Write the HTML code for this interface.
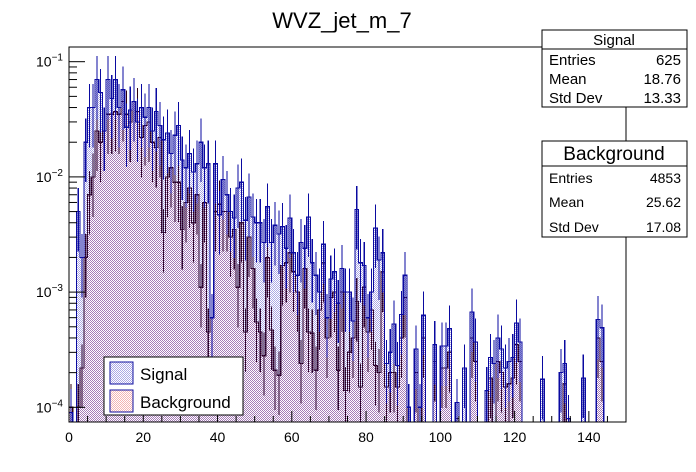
<!DOCTYPE html>
<html><head><meta charset="utf-8"><style>
body{margin:0;background:#fff;}
svg{display:block;font-family:"Liberation Sans",Arial,sans-serif;}
</style></head><body>
<svg id="chart" width="696" height="472" xmlns="http://www.w3.org/2000/svg">
<defs>
<pattern id="bgpat" patternUnits="userSpaceOnUse" width="2" height="2"><rect x="0" y="0" width="1" height="1" fill="#f4b4b4"/><rect x="1" y="1" width="1" height="1" fill="#f4b4b4"/></pattern>
<pattern id="sigpat" patternUnits="userSpaceOnUse" width="2" height="2"><rect x="0" y="0" width="1" height="1" fill="rgba(50,40,190,0.4)"/><rect x="1" y="1" width="1" height="1" fill="rgba(50,40,190,0.4)"/></pattern>
</defs>
<rect width="696" height="472" fill="#fff"/>
<text x="342" y="28" font-size="22" text-anchor="middle">WVZ_jet_m_7</text>
<g id="plot" shape-rendering="crispEdges"></g>
<rect x="69" y="47" width="557" height="375" fill="none" stroke="#000" stroke-width="1"/>
<g id="axes"></g>
<line x1="626" y1="108" x2="626" y2="140" stroke="#000"/>
<g>
<rect x="542" y="30" width="145" height="77" fill="#fff" stroke="#000"/>
<line x1="542" y1="49" x2="687" y2="49" stroke="#000"/>
<text x="614" y="45" font-size="15" text-anchor="middle">Signal</text>
<text x="549" y="65" font-size="15">Entries</text><text x="681" y="65" font-size="15" text-anchor="end">625</text>
<text x="549" y="84" font-size="15">Mean</text><text x="681" y="84" font-size="15" text-anchor="end">18.76</text>
<text x="549" y="103" font-size="15">Std Dev</text><text x="681" y="103" font-size="15" text-anchor="end">13.33</text>
</g>
<g>
<rect x="542" y="141" width="145" height="96" fill="#fff" stroke="#000"/>
<line x1="542" y1="166" x2="687" y2="166" stroke="#000"/>
<text x="614" y="160" font-size="19" text-anchor="middle">Background</text>
<text x="549" y="183" font-size="14">Entries</text><text x="681" y="183" font-size="14" text-anchor="end">4853</text>
<text x="549" y="207" font-size="14">Mean</text><text x="681" y="207" font-size="14" text-anchor="end">25.62</text>
<text x="549" y="232" font-size="14">Std Dev</text><text x="681" y="232" font-size="14" text-anchor="end">17.08</text>
</g>
<line x1="626" y1="237" x2="626" y2="248" stroke="#000"/>
<g>
<rect x="104" y="357" width="139" height="58" fill="#fff" stroke="#000"/>
<g><rect x="110" y="362" width="23" height="22" fill="url(#sigpat)" stroke="#1010a0"/><text x="140" y="380" font-size="17">Signal</text></g>
<g><rect x="110" y="390" width="23" height="22" fill="url(#bgpat)" stroke="#1010a0"/><text x="140" y="408" font-size="17">Background</text></g>
</g>
</svg>
<script>
const binEdgesMin = 0, binEdgesMax = 150;
const signalValues = [9e-5,0,5e-3,2e-3,0.02,0.04,0.04,0.07,0.054,0.025,0.07,0.048,0.07,0.04,0.057,0.027,0.038,0.045,0.03,0.04,
0.033,0.04,0.025,0.037,0.028,0.021,0.024,0.016,0.023,0.028,0.014,0.012,0.016,0.011,0.013,0.02,0.012,0.013,6e-4,0.013,
0.0047,0.0095,0.007,0.005,0.0044,0.008,0.009,0.0042,0.0067,0.0045,0.004,0.004,0.0027,0.0055,0.0027,0.0038,0.0032,0.0037,0.0024,0.0044,
0.0022,0.0014,0.0027,0.0024,0.0045,0.0018,0.0014,0.001,0.0026,6e-4,0.0013,0.0015,8e-4,0.0016,0.001,0.001,5.6e-4,0.0052,0.0018,0.0017,
6e-4,0.001,0.0036,0.0019,0.0022,2.4e-4,3e-4,5.3e-4,2.3e-4,6.4e-4,0.0014,1e-4,0,3.2e-4,1e-4,6.3e-4,0,0,3.5e-4,0,
3.4e-4,3.4e-4,4.8e-4,0,1.1e-4,0,2.2e-4,0,6.7e-4,3.7e-4,0,0,1.4e-4,2.7e-4,2.4e-4,4e-4,3.2e-4,2.2e-4,2.5e-4,2.7e-4,
5.4e-4,3.7e-4,0,0,0,0,0,1.75e-4,0,0,0,0,2e-4,2.4e-4,8e-5,0,0,0,1.8e-4,0,
0,0,5.8e-4,4.9e-4,0,0,0,0,0,0];
const backgroundValues = [1e-4,0,1e-4,2.2e-4,2e-3,7e-3,0.01,0.025,0.02,0.025,0.035,0.035,0.037,0.035,0.045,0.035,0.03,0.045,0.037,0.022,
0.028,0.03,0.02,0.018,0.022,0.0033,0.01,0.012,0.009,0.009,0.0035,0.006,0.008,0.004,0.007,0.0011,0.006,4.5e-4,6e-4,0.005,
0.0058,0.005,0.005,0.003,0.0035,0.0011,0.004,4.5e-4,0.003,0.0016,5.5e-4,4.5e-4,2.8e-4,0.002,4.7e-4,2.1e-4,1.9e-4,0.0017,0.0018,0.0022,
0.0015,0.001,2.4e-4,0.0016,4.5e-4,4.4e-4,2.1e-4,7e-4,0.0018,4e-4,9e-4,0.001,2.1e-4,0.001,1.4e-4,3e-4,4e-4,8.3e-4,1.5e-4,0.0011,
4.5e-4,7e-4,2.3e-4,2e-4,0.0015,1.5e-4,2e-4,2e-4,1.5e-4,4e-4,9e-4,0,0,2e-4,0,4e-4,0,0,2.5e-4,0,
2.2e-4,2.2e-4,3e-4,0,8e-5,0,0,0,4e-4,2.5e-4,0,0,0,1.8e-4,0,2.5e-4,2e-4,1.5e-4,1.6e-4,1.8e-4,
3.5e-4,2.5e-4,0,0,0,0,0,0,0,0,0,0,0,1.6e-4,0,0,0,0,0,0,
0,0,4e-4,2.5e-4,0,0,0,0,0,0];
const xTickLabels = [0,20,40,60,80,100,120,140];
const yTickExponents = [-1,-2,-3,-4];

const X0=69, X1=626, Y0=422, Y1=47;
const LOGMAX = -1 + (61.7-47)/115.3, LOGMIN = -4 - (422-407.3)/115.3;
function xs(v){return X0+(v-binEdgesMin)/(binEdgesMax-binEdgesMin)*(X1-X0);}
function ys(v){if(v<=0)return Y0;const l=Math.log10(v);return Math.max(Y1,Math.min(Y0,Y1+(LOGMAX-l)/(LOGMAX-LOGMIN)*(Y0-Y1)));}
const NS="http://www.w3.org/2000/svg";
const plot=document.getElementById('plot'), axes=document.getElementById('axes');
function mk(tag,attrs,parent){const e=document.createElementNS(NS,tag);for(const k in attrs)e.setAttribute(k,attrs[k]);parent.appendChild(e);return e;}

function drawHist(vals,fill,stroke,name,errCol){
  const g=mk('g',{},plot);
  
  
  const n=vals.length, w=(binEdgesMax-binEdgesMin)/n;
  let d='M'+xs(0)+','+Y0;
  for(let i=0;i<n;i++){const y=ys(vals[i]);d+=' L'+xs(i*w).toFixed(2)+','+y.toFixed(2)+' L'+xs((i+1)*w).toFixed(2)+','+y.toFixed(2);}
  d+=' L'+xs(binEdgesMax)+','+Y0+' Z';
  const p=mk('path',{d:d,fill:fill,stroke:stroke,'stroke-width':1.2},g);
  
  
  for(let i=0;i<n;i++){if(vals[i]<=0)continue;
    const cx=xs((i+0.5)*w);
    const l=mk('line',{x1:cx,x2:cx,y1:ys(vals[i]*1.6),y2:ys(vals[i]*0.45),stroke:errCol,'stroke-width':1.1},g);
    
    }
}
drawHist(backgroundValues,'url(#bgpat)','#300010','background-histogram','#300010');
drawHist(signalValues,'url(#sigpat)','#0a0aa0','signal-histogram','#0a0aa0');

for(let v=0;v<=150;v+=5){const x=xs(v);const major=v%20===0;
  const t=mk('line',{x1:x,x2:x,y1:Y0,y2:Y0-(major?11:6),stroke:'#000'},axes);
  
  }
xTickLabels.forEach(v=>{const t=mk('text',{x:xs(v),y:442,'font-size':14,'text-anchor':'middle'},axes);t.textContent=v;
  
  });
yTickExponents.forEach(e=>{
  for(let m=1;m<10;m++){const v=m*Math.pow(10,e);const y=ys(v);if(y<=Y1||y>=Y0)continue;
    const t=mk('line',{x1:X0,x2:X0+(m===1?16:8),y1:y,y2:y,stroke:'#000'},axes);
    
    }
  const y=ys(Math.pow(10,e));
  const t=mk('text',{x:36,y:y+5,'font-size':14},axes);t.textContent='10';
  
  
  const s=mk('tspan',{dy:-6,'font-size':10},t);s.textContent=String(e).replace('-','\u2212');
});
</script>
</body></html>
